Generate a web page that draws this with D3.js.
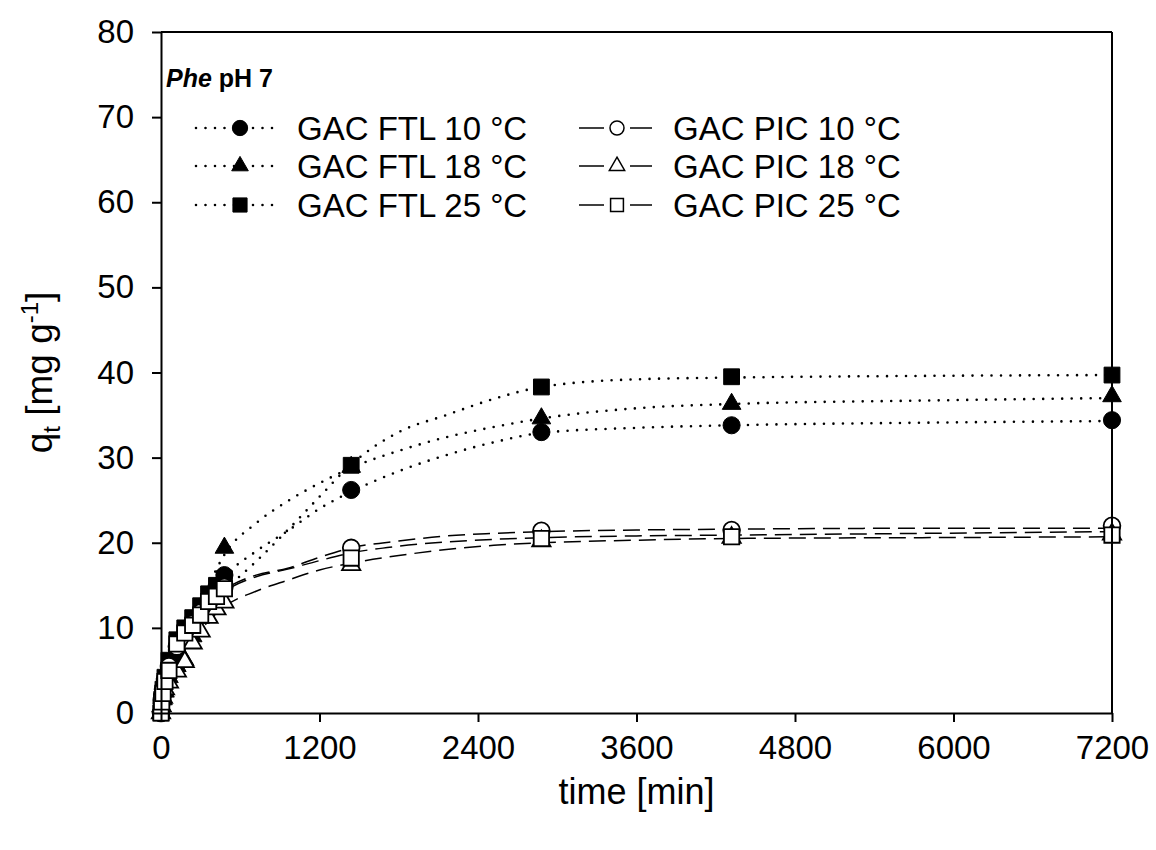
<!DOCTYPE html>
<html>
<head>
<meta charset="utf-8">
<script src="https://cdn.jsdelivr.net/npm/d3@7"></script>
<style>
	body { margin: 0; background: #fff; }
	svg { font-family: 'Liberation Sans', Arial, sans-serif; }
	.axis path, .axis line { stroke: #000; stroke-width: 2; }
	.axis text { font-size: 33px; fill: #000; }
</style>
</head>
<body>
<svg id="chart" width="1156" height="850"></svg>
<script>
// sampling times [min] and q_t values [mg/g]
const times = [0, 5, 15, 30, 60, 120, 180, 240, 300, 360, 420, 480, 1440, 2880, 4320, 7200];
const ftl10 = [0, 1.2, 2.2, 3.5, 5.3, 7.4, 9.0, 10.4, 11.8, 13.3, 14.8, 16.2, 26.2, 33.0, 33.8, 34.4];
const ftl18 = [0, 0.8, 1.6, 2.5, 4.2, 5.5, 6.2, 9.0, 11.2, 12.8, 14.8, 19.4, 28.9, 34.6, 36.3, 37.2];
const ftl25 = [0, 1.6, 2.8, 4.2, 6.2, 8.6, 10.0, 11.2, 12.6, 14.0, 15.0, 15.8, 29.1, 38.3, 39.5, 39.7];
const pic10 = [0, 1.5, 2.8, 4.0, 5.5, 7.8, 9.0, 10.5, 11.8, 12.8, 13.8, 14.8, 19.4, 21.4, 21.5, 22.0];
const pic18 = [0, 0.8, 1.8, 2.8, 3.6, 4.9, 6.0, 8.2, 9.6, 11.2, 12.2, 13.0, 17.4, 20.2, 20.6, 21.0];
const pic25 = [0, 1.3, 2.3, 3.7, 5.0, 8.1, 9.4, 10.3, 11.5, 13.1, 13.7, 14.6, 18.2, 20.5, 20.7, 20.9];

// fitted kinetic curves
const fitTimes = [0, 60, 120, 240, 360, 480, 720, 960, 1200, 1440, 1800, 2160, 2520, 2880, 3600, 4320, 5760, 7200];
const fitFtl10 = [0, 5.0, 7.5, 10.8, 13.6, 16.0, 19.0, 21.4, 24.0, 26.0, 28.4, 30.3, 31.8, 32.9, 33.5, 33.8, 34.1, 34.3];
const fitFtl18 = [0, 4.0, 6.8, 11.0, 15.0, 18.6, 22.3, 24.9, 27.0, 28.8, 30.8, 32.4, 33.6, 34.6, 35.8, 36.3, 36.7, 37.0];
const fitFtl25 = [0, 4.5, 7.3, 10.3, 12.6, 14.4, 17.8, 21.5, 25.4, 29.2, 33.0, 35.0, 36.9, 38.3, 39.2, 39.4, 39.6, 39.7];
const fitPic10 = [0, 5.0, 7.5, 10.8, 13.0, 14.5, 16.2, 17.0, 18.3, 19.4, 20.2, 20.8, 21.1, 21.3, 21.5, 21.6, 21.7, 21.7];
const fitPic18 = [0, 3.5, 5.5, 8.5, 10.8, 12.5, 14.3, 15.6, 16.8, 17.6, 18.5, 19.2, 19.7, 20.0, 20.3, 20.5, 20.6, 20.7];
const fitPic25 = [0, 5.2, 8.0, 10.8, 12.8, 14.3, 16.0, 16.9, 17.9, 18.8, 19.6, 20.1, 20.4, 20.6, 20.8, 20.9, 21.1, 21.3];

const xTicks = [0, 1200, 2400, 3600, 4800, 6000, 7200];
const yTicks = [0, 10, 20, 30, 40, 50, 60, 70, 80];

const series = [
	{ name: 'GAC FTL 10 °C', values: ftl10, fit: fitFtl10, symbol: d3.symbolCircle, size: 230, filled: true },
	{ name: 'GAC FTL 18 °C', values: ftl18, fit: fitFtl18, symbol: d3.symbolTriangle, size: 150, filled: true },
	{ name: 'GAC FTL 25 °C', values: ftl25, fit: fitFtl25, symbol: d3.symbolSquare, size: 250, filled: true },
	{ name: 'GAC PIC 10 °C', values: pic10, fit: fitPic10, symbol: d3.symbolCircle, size: 220, filled: false },
	{ name: 'GAC PIC 18 °C', values: pic18, fit: fitPic18, symbol: d3.symbolTriangle, size: 145, filled: false },
	{ name: 'GAC PIC 25 °C', values: pic25, fit: fitPic25, symbol: d3.symbolSquare, size: 235, filled: false },
];

const svg = d3.select('svg#chart');
const margin = { top: 32, right: 44, bottom: 137, left: 161 };
const width = 1156 - margin.left - margin.right;
const height = 850 - margin.top - margin.bottom;

const x = d3.scaleLinear([ 0, 7200 ], [ 0, width ]);
const y = d3.scaleLinear([ 0, 80 ], [ height, 0 ]);

const g = svg.append('g').attr('transform', `translate(${margin.left},${margin.top})`);

// dotted for FTL, dashed for PIC
const lineStyle = s => s.filled
	? { width: 2.6, dash: '0 9.5', cap: 'round' }
	: { width: 1.5, dash: '17 8', cap: 'butt' };

const line = d3.line()
	.x((d, i) => x(fitTimes[i]))
	.y(d => y(d))
	.curve(d3.curveMonotoneX);

series.forEach(s => {
	const st = lineStyle(s);
	g.append('path')
		.datum(s.fit)
		.attr('d', line)
		.attr('fill', 'none')
		.attr('stroke', '#000')
		.attr('stroke-width', st.width)
		.attr('stroke-dasharray', st.dash)
		.attr('stroke-linecap', st.cap);
});

series.forEach(s => {
	g.append('g')
		.selectAll('path')
		.data(s.values)
		.join('path')
		.attr('d', d3.symbol(s.symbol, s.size))
		.attr('transform', (d, i) => `translate(${x(times[i])},${y(d)})`)
		.attr('fill', s.filled ? '#000' : '#fff')
		.attr('stroke', '#000')
		.attr('stroke-width', s.filled ? 1 : 1.8);
});

// axes, ticks pointing outward
g.append('g')
	.attr('class', 'axis')
	.attr('transform', `translate(0,${height})`)
	.call(d3.axisBottom(x).tickValues(xTicks).tickFormat(d3.format('d')).tickSize(9).tickSizeOuter(0).tickPadding(14));
g.append('g')
	.attr('class', 'axis')
	.call(d3.axisLeft(y).tickValues(yTicks).tickSize(9).tickSizeOuter(0).tickPadding(18));

// frame top & right
g.append('line')
	.attr('x1', 0).attr('x2', width).attr('y1', 0).attr('y2', 0)
	.attr('stroke', '#000').attr('stroke-width', 2);
g.append('line')
	.attr('x1', width).attr('x2', width).attr('y1', 0).attr('y2', height)
	.attr('stroke', '#000').attr('stroke-width', 2);

// axis titles
svg.append('text')
	.attr('x', margin.left + width / 2)
	.attr('y', 804)
	.attr('text-anchor', 'middle')
	.attr('font-size', 36)
	.text('time [min]');

const yl = svg.append('text')
	.attr('transform', `translate(52,${margin.top + height / 2}) rotate(-90)`)
	.attr('text-anchor', 'middle')
	.attr('font-size', 37);
yl.append('tspan').text('q');
yl.append('tspan').attr('font-size', 24).attr('dy', 8).text('t');
yl.append('tspan').attr('dy', -8).text(' [mg g');
yl.append('tspan').attr('font-size', 24).attr('dy', -14).text('-1');
yl.append('tspan').attr('dy', 14).text(']');

// legend
const title = svg.append('text')
	.attr('x', 166)
	.attr('y', 87)
	.attr('font-size', 25)
	.attr('font-weight', 'bold');
title.append('tspan').attr('font-style', 'italic').text('Phe');
title.append('tspan').text(' pH 7');

const legendRows = [ 128, 166, 205 ];
const legendCols = [ { x0: 196, xm: 240, x1: 276, tx: 297 }, { x0: 579, xm: 617, x1: 652, tx: 673 } ];

series.forEach((s, i) => {
	const col = legendCols[s.filled ? 0 : 1];
	const ry = legendRows[i % 3];
	const st = lineStyle(s);
	const lg = svg.append('g');
	if (s.filled) {
		lg.append('line')
			.attr('x1', col.x0).attr('x2', col.x1).attr('y1', ry).attr('y2', ry)
			.attr('stroke', '#000')
			.attr('stroke-width', st.width)
			.attr('stroke-dasharray', st.dash)
			.attr('stroke-linecap', st.cap);
	} else {
		[ [ col.x0, col.xm - 13 ], [ col.xm + 13, col.x1 ] ].forEach(([ a, b ]) => {
			lg.append('line')
				.attr('x1', a).attr('x2', b).attr('y1', ry).attr('y2', ry)
				.attr('stroke', '#000')
				.attr('stroke-width', st.width);
		});
	}
	lg.append('path')
		.attr('d', d3.symbol(s.symbol, s.filled ? s.size * 0.8 : s.size * 0.7))
		.attr('transform', `translate(${col.xm},${ry})`)
		.attr('fill', s.filled ? '#000' : '#fff')
		.attr('stroke', '#000')
		.attr('stroke-width', s.filled ? 1 : 1.5);
	lg.append('text')
		.attr('x', col.tx)
		.attr('y', ry + 12)
		.attr('font-size', 33)
		.text(s.name);
});
</script>
</body>
</html>
